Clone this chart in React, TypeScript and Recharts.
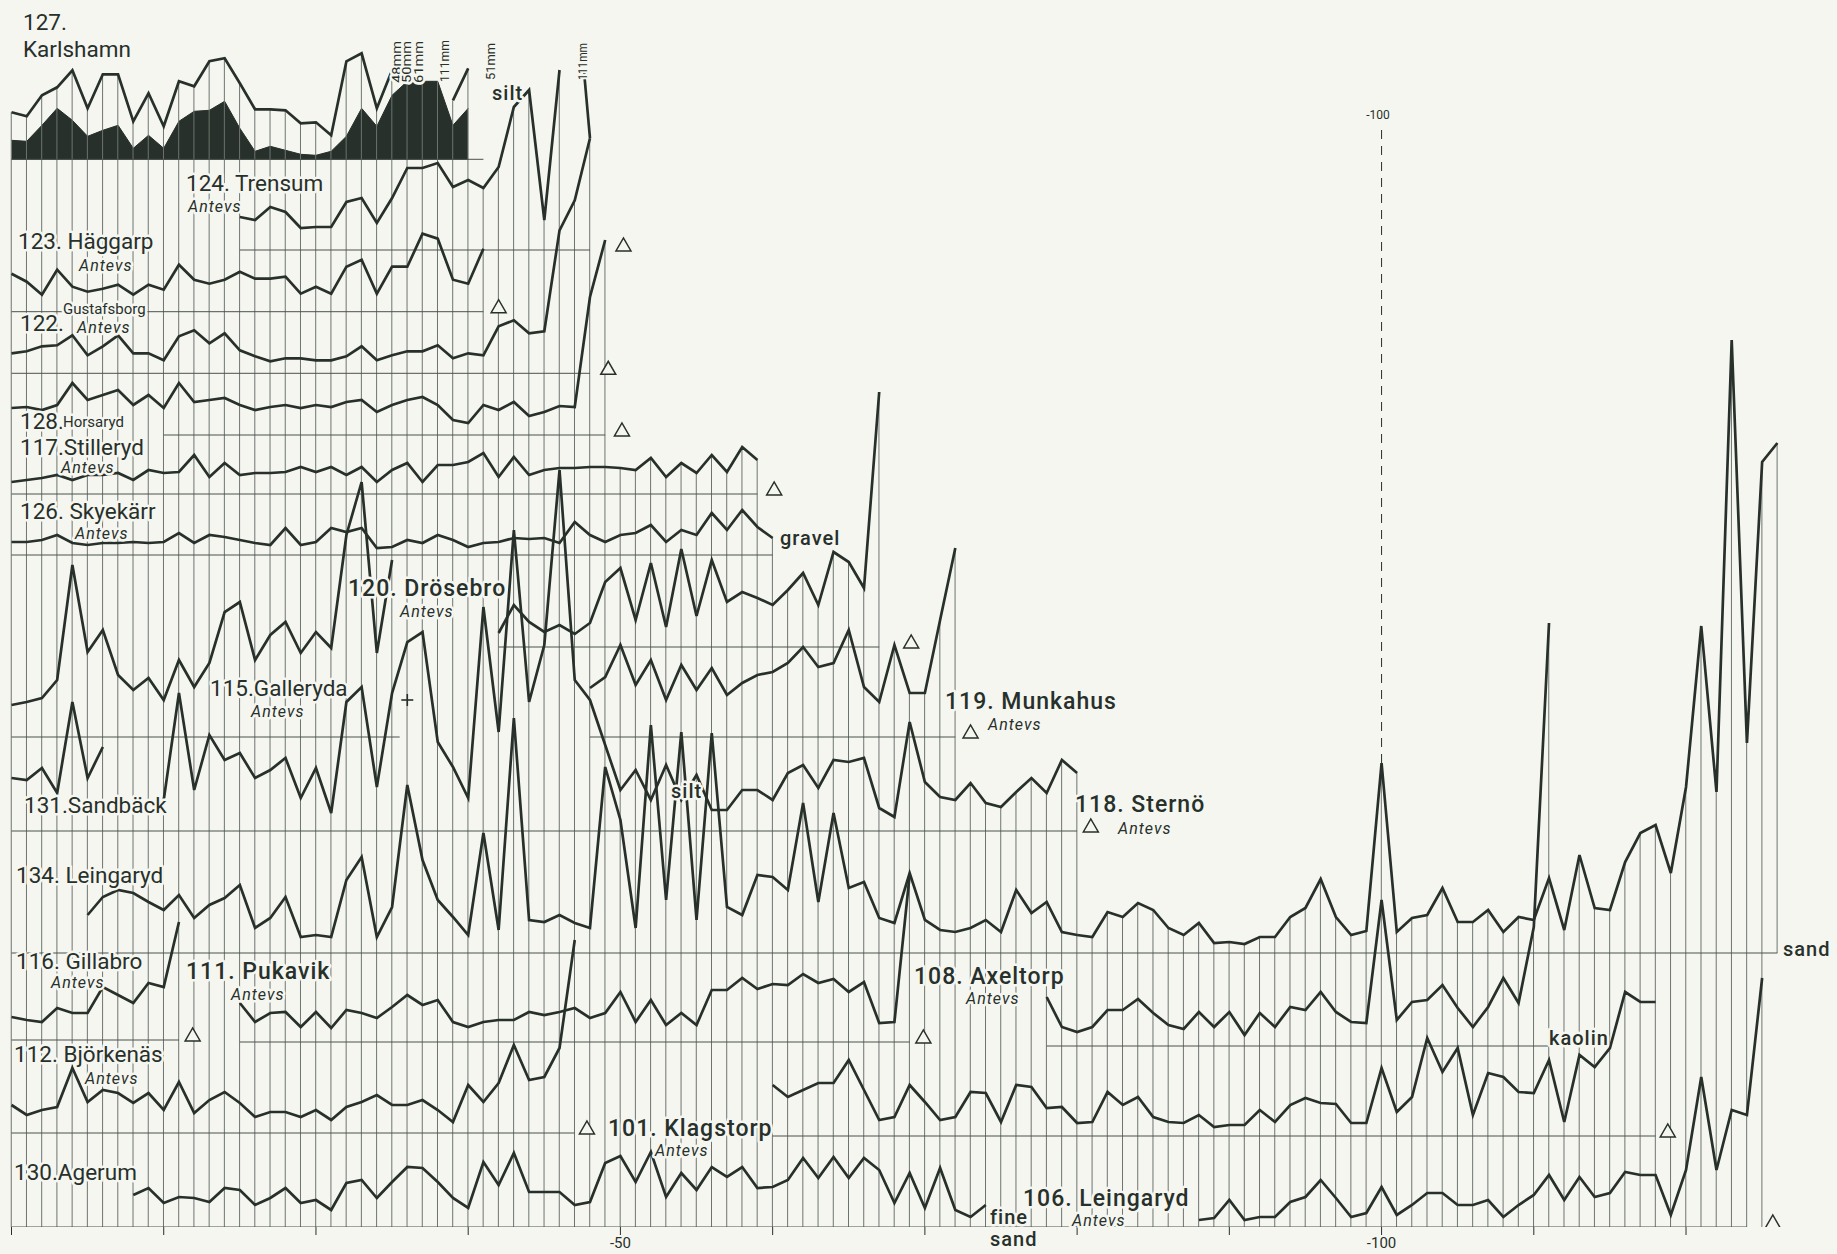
import React from "react";
import {
  ComposedChart,
  Line,
  Area,
  Bar,
  Scatter,
  XAxis,
  YAxis,
  ReferenceLine,
} from "recharts";

const W = 1837;
const H = 1254;
const PLOT_H = 1227;
const X10 = 11.5; // pixel x of varve 10
const PX_PER_VARVE = 15.223;
const N_LO = 10 - X10 / PX_PER_VARVE;
const N_HI = 10 + (W - X10) / PX_PER_VARVE;

const INK = "#27302a";
const PAPER = "#f6f6f1";
const GRID = "#6d746f";
const ZERO = "#4b524d";
const FONT = "Roboto, 'DejaVu Sans', sans-serif";

const TICKS = [10, 20, 30, 40, 50, 60, 70, 80, 90, 100, 110, 120];

// varve thickness above each station's zero line, one entry per varve
const karlshamnTotal = [47, 43, 64, 72, 89, 51, 85, 85, 38, 66, 33, 78, 73, 98, 101, 76, 50, 50, 49, 36, 37, 24, 98, 106, 51, 89, null, null, null, 59, 91];
const karlshamnClay = [19, 18, 34, 51, 39, 23, 29, 34, 11, 24, 11, 38, 48, 49, 58, 31, 8, 13, 9, 5, 4, 8, 23, 51, 33, 64, 78, 78, 78, 34, 51];
const trensum = [33, 30, 43, 38, 22, 23, 23, 48, 52, 27, 52, 82, 82, 87, 63, 70, 62, 83, 143, 160, 30, 180];
const trensumTail = [[47.6, 180], [48, 112]];
const haggarp = [38, 30, 17, 42, 25, 20, 23, 27, 17, 27, 22, 47, 32, 28, 32, 40, 33, 33, 35, 18, 25, 18, 45, 52, 18, 45, 45, 78, 73, 32, 28, 63];
const gustafsborg = [20, 22, 27, 28, 38, 18, 27, 38, 20, 20, 13, 37, 43, 30, 40, 23, 17, 12, 15, 15, 13, 13, 17, 27, 13, 18, 22, 22, 28, 15, 20, 18, 47, 53, 40, 42, 143, 173, 235];
const horsaryd = [27, 28, 25, 30, 52, 35, 40, 45, 30, 40, 27, 52, 33, 35, 37, 30, 25, 28, 30, 27, 30, 28, 33, 35, 23, 30, 35, 38, 30, 15, 12, 30, 25, 33, 19, 23, 29, 28, 138, 195];
const stilleryd = [12, 14, 16, 19, 14, 19, 19, 21, 14, 24, 21, 22, 39, 17, 31, 19, 21, 21, 22, 27, 22, 27, 19, 27, 12, 24, 31, 12, 29, 29, 32, 41, 17, 37, 19, 24, 26, 26, 27, 27, 26, 24, 36, 17, 31, 21, 39, 22, 47, 34];
const skyekarr = [13, 13, 15, 20, 12, 10, 12, 12, 13, 12, 13, 22, 12, 20, 18, 15, 12, 10, 27, 10, 13, 27, 23, 27, 7, 8, 15, 12, 20, 15, 8, 12, 13, 17, 16, 17, 12, 33, 20, 13, 20, 22, 30, 13, 25, 20, 42, 25, 45, 28, 17];
const galleryda = [32, 35, 39, 57, 172, 85, 107, 62, 47, 59, 37, 77, 50, 74, 125, 135, 77, 102, 115, 84, 105, 89, 202, 255, 84, 177];
const sandback = [53, 51, 63, 38, 129, 53, 84, null, null, null, 31, 138, 41, 96, 71, 78, 53, 61, 73, 33, 63, 18, 129, 144, 44, 138, 189, 199, 89, 64, 33, 224, 99, 301, 129, 186, 361, 151, 131, 86, 41, 61, 31, 66, 31, 56, 21, 21, 41, 41, 31, 58, 66, 43, 71, 69, 73, 23, 14, 109, 49, 34, 31, 48, 28, 24, 39, 53, 38, 71, 58];
const drosebro = [14, 42, 25, 15, 22, 13, 24, 65, 79, 27, 84, 20, 98, 31, 87, 45, 55, 49, 42, 57, 74, 42, 95, 85, 59, 255];
const munkahus = [49, 60, 92, 52, 77, 37, 72, 47, 69, 42, 54, 62, 65, 74, 90, 70, 74, 107, 50, 35, 92, 44, 44, 117, 189];
const leingaryd134 = [38, 56, 63, 60, 51, 43, 58, 35, 48, 55, 68, 25, 35, 56, 16, 18, 16, 73, 96, 16, 46, 168, 93, 53, 36, 18, 120, 23, 235, 33, 31, 38, 30, 25, 186, 133, 25, 228, 53, 221, 33, 220, 46, 38, 78, 76, 63, 150, 51, 140, 65, 71, 35, 30, 80, 33, 23, 21, 25, 33, 21, 63, 40, 51, 21, 18];
const sterno = [18, 16, 41, 36, 50, 43, 25, 18, 30, 10, 11, 9, 16, 16, 36, 45, 74, 36, 18, 22, 190, 21, 35, 38, 65, 31, 31, 43, 21, 36, 33, 75, 23, 98, 45, 43, 91, 120, 128, 80, 166, 327, 161, 613, 210, 491, 510];
const gillabro = [23, 20, 18, 32, 27, 27, 53, 45, 37, 57, 53, 118];
const pukavik = [39, 20, 29, 30, 15, 30, 14, 32, 29, 24, 35, 47, 37, 42, 20, 15, 20, 22, 22, 30, 27, 30, 34, 24, 29, 50, 20, 42, 17, 29, 17, 52, 52, 64, 53, 58, 57, 68, 59, 63, 50, 60, 19, 20, 167];
const bjorkenas = [28, 18, 23, 26, 65, 31, 43, 40, 30, 40, 23, 51, 20, 33, 41, 30, 16, 21, 21, 16, 23, 13, 26, 31, 38, 28, 28, 33, 23, 11, 48, 31, 50, 88, 53, 56, 85, 193];
const klagstorp = [51, 39, 46, 53, 53, 76, 46, 16, 19, 51, 34, 16, 19, 44, 43, 14, 51, 49, 28, 29, 13, 14, 44, 31, 39, 19, 14, 13, 21, 9, 11, 11, 26, 14, 31, 38, 33, 32, 13, 13, 68, 24, 39, 98, 64, 88, 21, 63, 59, 44, 43, 76, 14, 81, 69, 88, 144, 134, 134];
const axeltorp = [49, 19, 14, 19, 36, 36, 47, 33, 21, 17, 34, 19, 34, 11, 33, 19, 39, 36, 54, 34, 24, 23, 146, 26, 44, 46, 61, 38, 19, 39, 68, 43, 119, 423];
const agerum = [32, 39, 24, 30, 29, 25, 39, 37, 22, 29, 39, 24, 27, 17, 44, 47, 29, 45, 60, 59, 45, 29, 19, 65, 42, 74, 35, 35, 35, 22, 25, 64, 71, 45, 75, 30, 54, 37, 60, 50, 60, 39, 40, 47, 69, 49, 70, 49, 69, 57, 24, 54, 19, 59, 17, 10, 22];
const leingaryd106 = [7, 9, 27, 7, 10, 10, 25, 30, 47, 29, 10, 14, 40, 12, 22, 34, 34, 22, 22, 27, 10, 22, 32, 52, 27, 50, 30, 34, 55, 52, 52, 12, 57, 150, 57, 117, 112, 249];

type Station = {
  id: string;
  start: number;
  base: number;
  values: (number | null)[];
  zero?: [number, number];
  mark?: number;
};

const KARLSHAMN_BASE = 1067.7;

const stations: Station[] = [
  { id: "127", start: 10, base: KARLSHAMN_BASE, values: karlshamnTotal, zero: [10, 41] },
  { id: "124", start: 25, base: 977, values: trensum, zero: [25, 48], mark: 50.2 },
  { id: "123", start: 10, base: 915.3, values: haggarp, zero: [10, 41], mark: 42 },
  { id: "122", start: 10, base: 853.7, values: gustafsborg, zero: [10, 48], mark: 49.2 },
  { id: "128", start: 10, base: 792, values: horsaryd, zero: [20, 49], mark: 50.1 },
  { id: "117", start: 10, base: 733, values: stilleryd, zero: [10, 59], mark: 60.1 },
  { id: "126", start: 10, base: 672, values: skyekarr, zero: [10, 60] },
  { id: "115", start: 10, base: 490, values: galleryda, zero: [10, 35.5] },
  { id: "131", start: 10, base: 396, values: sandback, zero: [10, 80], mark: 80.9 },
  { id: "120", start: 42, base: 580, values: drosebro, zero: [42, 67], mark: 69.1 },
  { id: "119", start: 48, base: 490, values: munkahus, zero: [48, 72], mark: 73 },
  { id: "134", start: 15, base: 274, values: leingaryd134, zero: [10, 80] },
  { id: "118", start: 80, base: 274, values: sterno, zero: [80, 126] },
  { id: "116", start: 10, base: 187, values: gillabro, zero: [10, 21], mark: 21.9 },
  { id: "111", start: 25, base: 185, values: pukavik, zero: [25, 69], mark: 69.9 },
  { id: "112", start: 10, base: 94, values: bjorkenas, zero: [10, 47], mark: 47.8 },
  { id: "101", start: 60, base: 91, values: klagstorp, zero: [60, 118], mark: 118.8 },
  { id: "108", start: 78, base: 181, values: axeltorp, zero: [78, 111] },
  { id: "130", start: 18, base: 0, values: agerum, zero: [10, 124] },
  { id: "106", start: 88, base: 0, values: leingaryd106, mark: 125.7 },
];

const valueAt = (s: Station, n: number) => {
  const i = n - s.start;
  if (i < 0 || i >= s.values.length) return null;
  const v = s.values[i];
  return v == null ? null : s.base + v;
};

const lineData = (s: Station) =>
  s.values.map((v, i) => ({ n: s.start + i, v: v == null ? null : s.base + v }));

const clayData = karlshamnClay.map((c, i) => ({
  n: 10 + i,
  band: [KARLSHAMN_BASE, KARLSHAMN_BASE + c],
}));

const trensumTailData = trensumTail.map(([n, t]) => ({ n, v: 977 + t }));

// one vertical rule per varve, from the lowest zero line up to the highest curve
const gridRows: { n: number; grid: [number, number] }[] = [];
for (let n = 10; n <= 126; n++) {
  const tops = stations.map((s) => valueAt(s, n)).filter((v): v is number => v != null);
  const ci = n - 10;
  if (ci < karlshamnClay.length) tops.push(KARLSHAMN_BASE + karlshamnClay[ci]);
  gridRows.push({ n, grid: [n <= 125 ? 0 : 274, Math.max(...tops)] });
}

const markData = stations
  .filter((s) => s.mark != null)
  .map((s) => ({ n: s.mark as number, v: s.base + 5 }));
const crossData = [{ n: 36, v: 527 }];

const Triangle = (p: any) => {
  const { cx, cy } = p;
  return (
    <polygon
      points={`${cx - 7.5},${cy + 6} ${cx + 7.5},${cy + 6} ${cx},${cy - 7}`}
      fill={PAPER}
      stroke={INK}
      strokeWidth={1.5}
    />
  );
};

const Cross = (p: any) => {
  const { cx, cy } = p;
  return (
    <g stroke={INK} strokeWidth={1.6}>
      <line x1={cx - 6} y1={cy} x2={cx + 6} y2={cy} />
      <line x1={cx} y1={cy - 6} x2={cx} y2={cy + 6} />
    </g>
  );
};

type Kind = "name" | "bold" | "small" | "it" | "note";
const labelItems: [string, number, number, Kind][] = [
  ["127.", 23, 30, "name"],
  ["Karlshamn", 23, 57, "name"],
  ["124. Trensum", 186, 191, "name"],
  ["Antevs", 188, 212, "it"],
  ["123. Häggarp", 18, 249, "name"],
  ["Antevs", 79, 271, "it"],
  ["Gustafsborg", 63, 314, "small"],
  ["122.", 20, 331, "name"],
  ["Antevs", 77, 333, "it"],
  ["128.", 20, 429, "name"],
  ["Horsaryd", 63, 427, "small"],
  ["117.Stilleryd", 20, 455, "name"],
  ["Antevs", 61, 473, "it"],
  ["126. Skyekärr", 20, 519, "name"],
  ["Antevs", 75, 539, "it"],
  ["120. Drösebro", 348, 596, "bold"],
  ["Antevs", 400, 617, "it"],
  ["115.Galleryda", 210, 696, "name"],
  ["Antevs", 251, 717, "it"],
  ["131.Sandbäck", 24, 813, "name"],
  ["134. Leingaryd", 16, 883, "name"],
  ["116. Gillabro", 16, 969, "name"],
  ["Antevs", 51, 988, "it"],
  ["111. Pukavik", 186, 979, "bold"],
  ["Antevs", 231, 1000, "it"],
  ["112. Björkenäs", 14, 1062, "name"],
  ["Antevs", 85, 1084, "it"],
  ["130.Agerum", 14, 1180, "name"],
  ["119. Munkahus", 945, 709, "bold"],
  ["Antevs", 988, 730, "it"],
  ["118. Sternö", 1075, 812, "bold"],
  ["Antevs", 1118, 834, "it"],
  ["108. Axeltorp", 914, 984, "bold"],
  ["Antevs", 966, 1004, "it"],
  ["101. Klagstorp", 608, 1136, "bold"],
  ["Antevs", 655, 1156, "it"],
  ["106. Leingaryd", 1023, 1206, "bold"],
  ["Antevs", 1072, 1226, "it"],
  ["silt", 492, 100, "note"],
  ["silt", 671, 798, "note"],
  ["gravel", 780, 545, "note"],
  ["kaolin", 1549, 1045, "note"],
  ["sand", 1783, 956, "note"],
  ["fine", 990, 1224, "note"],
  ["sand", 990, 1246, "note"],
];

// off-scale thicknesses written upright beside the clipped strokes
const mmLabels: [string, number, number, number][] = [
  ["48mm", 401, 83, 42],
  ["50mm", 411, 83, 42],
  ["61mm", 423, 83, 42],
  ["111mm", 449, 82, 42],
  ["51mm", 495, 80, 37],
  ["111mm", 587, 80, 37],
];

const kindStyle: Record<Kind, React.SVGProps<SVGTextElement>> = {
  name: { fontSize: 22.5 },
  bold: { fontSize: 23, fontWeight: 500, letterSpacing: 1 },
  small: { fontSize: 15 },
  it: { fontSize: 16, fontStyle: "italic", letterSpacing: 1 },
  note: { fontSize: 20, fontWeight: 500, letterSpacing: 1 },
};

export default function App() {
  return (
    <div style={{ position: "relative", width: W, height: H, background: PAPER }}>
      <style>{`body{margin:0;background:${PAPER}}`}</style>
      <ComposedChart
        width={W}
        height={H}
        data={gridRows}
        margin={{ top: 0, right: 0, bottom: 0, left: 0 }}
      >
        <XAxis
          type="number"
          dataKey="n"
          domain={[N_LO, N_HI]}
          allowDataOverflow
          ticks={TICKS}
          interval={0}
          tickFormatter={(n: number) => (n === 50 || n === 100 ? `-${n}` : "")}
          height={H - PLOT_H}
          axisLine={false}
          tickLine={{ stroke: INK }}
          tickSize={8}
          tick={{ fill: INK, fontSize: 15, fontFamily: FONT }}
        />
        <YAxis type="number" domain={[0, PLOT_H]} allowDataOverflow hide />
        <Bar dataKey="grid" fill={GRID} barSize={1} isAnimationActive={false} />
        <Area
          data={clayData}
          dataKey="band"
          type="linear"
          fill={INK}
          fillOpacity={1}
          stroke={INK}
          strokeWidth={1}
          dot={false}
          activeDot={false}
          isAnimationActive={false}
        />
        {stations
          .filter((s) => s.zero)
          .map((s) => (
            <Line
              key={"zero" + s.id}
              data={[
                { n: s.zero![0], v: s.base },
                { n: s.zero![1], v: s.base },
              ]}
              dataKey="v"
              stroke={ZERO}
              strokeWidth={1}
              dot={false}
              activeDot={false}
              legendType="none"
              isAnimationActive={false}
            />
          ))}
        <ReferenceLine
          segment={[
            { x: 100, y: 464 },
            { x: 100, y: 1100 },
          ]}
          stroke={INK}
          strokeWidth={1}
          strokeDasharray="9 7"
        />
        {stations.map((s) => (
          <Line
            key={s.id}
            data={lineData(s)}
            dataKey="v"
            type="linear"
            stroke={INK}
            strokeWidth={2.7}
            dot={false}
            activeDot={false}
            legendType="none"
            isAnimationActive={false}
          />
        ))}
        <Line
          data={trensumTailData}
          dataKey="v"
          type="linear"
          stroke={INK}
          strokeWidth={2.7}
          dot={false}
          activeDot={false}
          legendType="none"
          isAnimationActive={false}
        />
        <Scatter data={markData} dataKey="v" shape={Triangle} isAnimationActive={false} />
        <Scatter data={crossData} dataKey="v" shape={Cross} isAnimationActive={false} />
      </ComposedChart>
      <svg
        width={W}
        height={H}
        style={{ position: "absolute", left: 0, top: 0, pointerEvents: "none" }}
      >
        <g fontFamily={FONT} fill={INK} stroke={PAPER} strokeWidth={5} strokeLinejoin="round" paintOrder="stroke">
          {labelItems.map(([t, x, y, k], i) => (
            <text key={i} x={x} y={y} {...kindStyle[k]}>
              {t}
            </text>
          ))}
          {mmLabels.map(([t, x, y, len], i) => (
            <text
              key={"mm" + i}
              x={x}
              y={y}
              fontSize={13}
              textLength={len}
              lengthAdjust="spacingAndGlyphs"
              transform={`rotate(-90 ${x} ${y})`}
            >
              {t}
            </text>
          ))}
          <text x={1378} y={119} fontSize={12} textAnchor="middle">
            -100
          </text>
        </g>
      </svg>
    </div>
  );
}
